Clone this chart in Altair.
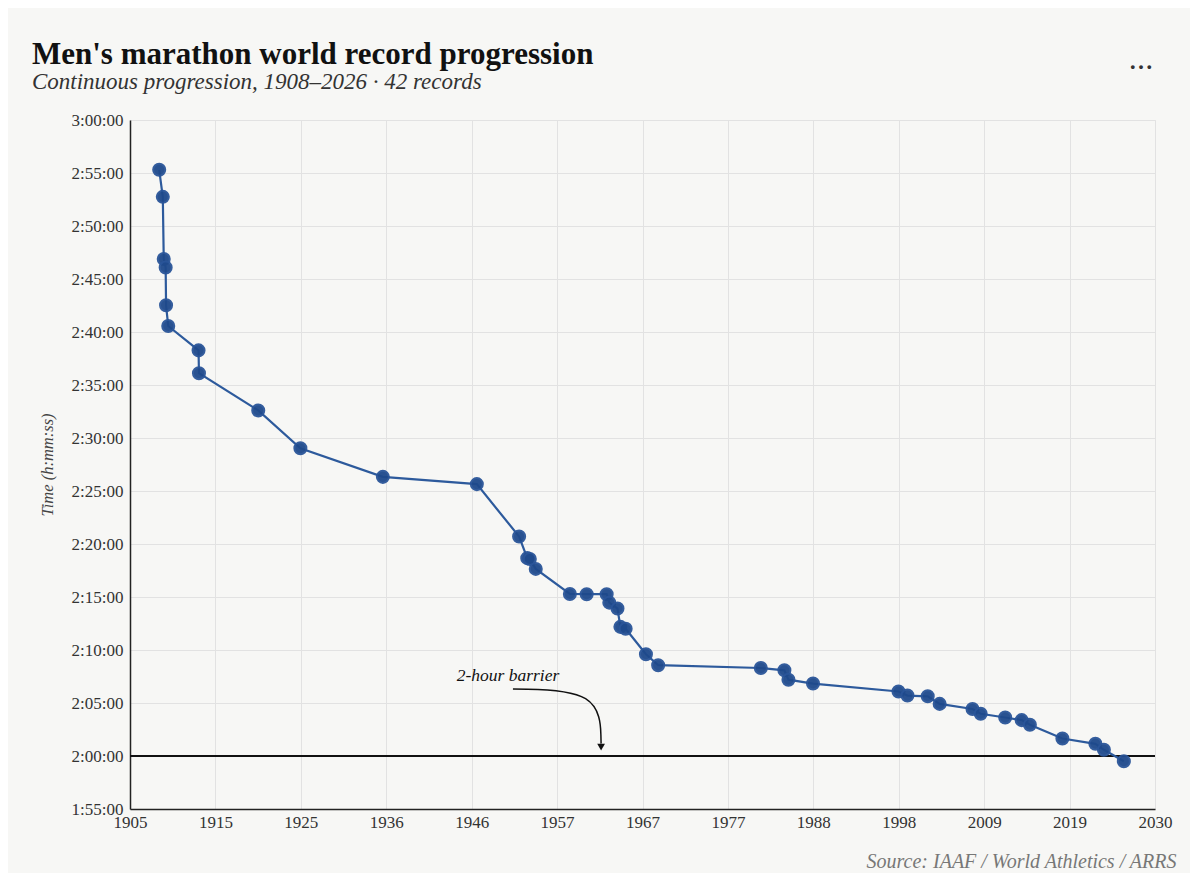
import altair as alt
import pandas as pd

# ---- data ----
dates = [
    "1908-07-24", "1909-01-01", "1909-02-12", "1909-05-08", "1909-05-26", "1909-08-31",
    "1913-05-12", "1913-05-31", "1920-08-22", "1925-10-12", "1935-11-03", "1947-04-19",
    "1952-06-14", "1953-06-13", "1953-10-04", "1954-06-26", "1958-08-24", "1960-09-10",
    "1963-02-17", "1963-06-15", "1964-06-13", "1964-10-21", "1965-06-12", "1967-12-03",
    "1969-05-30", "1981-12-06", "1984-10-21", "1985-04-20", "1988-04-17", "1998-09-20",
    "1999-10-24", "2002-04-14", "2003-09-28", "2007-09-30", "2008-09-28", "2011-09-25",
    "2013-09-29", "2014-09-28", "2018-09-16", "2022-09-25", "2023-10-08", "2026-03-15",
]
times = [
    "2:55:18", "2:52:45", "2:46:53", "2:46:05", "2:42:31", "2:40:34",
    "2:38:16", "2:36:07", "2:32:36", "2:29:02", "2:26:20", "2:25:39",
    "2:20:42", "2:18:40", "2:18:35", "2:17:39", "2:15:17", "2:15:16",
    "2:15:16", "2:14:28", "2:13:55", "2:12:11", "2:12:00", "2:09:36",
    "2:08:34", "2:08:18", "2:08:05", "2:07:12", "2:06:50", "2:06:05",
    "2:05:42", "2:05:38", "2:04:55", "2:04:26", "2:03:59", "2:03:38",
    "2:03:23", "2:02:57", "2:01:39", "2:01:09", "2:00:35", "1:59:30",
]

x_tick_values = [1905, 1915.417, 1925.833, 1936.25, 1946.667, 1957.083, 1967.5,
                 1977.917, 1988.333, 1998.75, 2009.167, 2019.583, 2030]
y_tick_values = list(range(6900, 10801, 300))  # 1:55:00 .. 3:00:00 in seconds

barrier_seconds = [7200]
arrow_years = [1951.7, 1962.3, 1962.45]
arrow_secs = [7579, 7574, 7270]
arrow_head_year = [1962.45]
arrow_head_sec = [7250]
label_year = [1951.1]
label_sec = [7653]


def to_sec(t):
    h, m, s = t.split(":")
    return int(h) * 3600 + int(m) * 60 + int(s)


def frac_year(d):
    ts = pd.Timestamp(d)
    days = 366 if ts.is_leap_year else 365
    return ts.year + (ts.dayofyear - 1) / days


df = pd.DataFrame({
    "year": [frac_year(d) for d in dates],
    "seconds": [to_sec(t) for t in times],
    "date": dates,
    "time": times,
})

SERIF = "Liberation Serif"
W, H = 1025, 689

xscale = alt.Scale(domain=[1905, 2030], nice=False, zero=False)
yscale = alt.Scale(domain=[6900, 10800], nice=False, zero=False)

x_axis = alt.Axis(
    values=x_tick_values, labelExpr="floor(datum.value)", grid=True, ticks=False,
    labelFlush=False, labelPadding=5, labelFontSize=17, labelFont=SERIF, labelColor="#333",
    domainColor="#222", domainWidth=1.5, gridColor="#e2e2e2",
    title="Source: IAAF / World Athletics / ARRS", titleFont=SERIF, titleFontSize=20,
    titleFontStyle="italic", titleFontWeight="normal", titleColor="#777",
    titleAlign="right", titleAnchor="end", titleBaseline="alphabetic",
    titleX=W + 21, titleY=58,
)
y_axis = alt.Axis(
    values=y_tick_values,
    labelExpr="utcFormat(datum.value * 1000, '%-H:%M:%S')",
    grid=True, ticks=False, labelFlush=False, labelPadding=7, labelFontSize=17, labelFont=SERIF,
    labelColor="#333", domainColor="#222", domainWidth=1.5, gridColor="#e2e2e2",
    title="Time (h:mm:ss)", titleFont=SERIF, titleFontSize=16.5, titleFontStyle="italic",
    titleFontWeight="normal", titleColor="#444", titleX=-83, titleBaseline="middle",
)

base = alt.Chart(df)

line = base.mark_line(color="#2d5a9c", strokeWidth=2.2).encode(
    x=alt.X("year:Q", scale=xscale, axis=x_axis),
    y=alt.Y("seconds:Q", scale=yscale, axis=y_axis),
)

points = base.mark_point(
    filled=True, size=145, color="#1f4a8c", opacity=0.95,
    stroke="#2a5599", strokeWidth=2,
).encode(
    x="year:Q", y="seconds:Q",
    tooltip=["date:N", "time:N"],
)

rule = alt.Chart(pd.DataFrame({"seconds": barrier_seconds})).mark_rule(
    color="#111", strokeWidth=2
).encode(y=alt.Y("seconds:Q", scale=yscale))

arrow_df = pd.DataFrame({"year": arrow_years, "seconds": arrow_secs, "o": [0, 1, 2]})
arrow = alt.Chart(arrow_df).mark_line(
    color="#111", strokeWidth=1.5, interpolate="basis"
).encode(
    x=alt.X("year:Q", scale=xscale), y=alt.Y("seconds:Q", scale=yscale), order="o:Q"
)

head = alt.Chart(pd.DataFrame({"year": arrow_head_year, "seconds": arrow_head_sec})).mark_point(
    shape="triangle-down", filled=True, color="#111", size=60, opacity=1
).encode(x=alt.X("year:Q", scale=xscale), y=alt.Y("seconds:Q", scale=yscale))

label = alt.Chart(pd.DataFrame({"year": label_year, "seconds": label_sec, "t": ["2-hour barrier"]})).mark_text(
    font=SERIF, fontSize=17.5, fontStyle="italic", color="#111", align="center", baseline="middle"
).encode(x=alt.X("year:Q", scale=xscale), y=alt.Y("seconds:Q", scale=yscale), text="t:N")

menu = alt.Chart(pd.DataFrame({"t": ["• • •"]})).mark_text(
    fontSize=13, fontWeight="bold", color="#333", align="center", baseline="middle"
).encode(x=alt.value(W - 14), y=alt.value(-53), text="t:N")

chart = alt.layer(rule, line, points, arrow, head, label, menu).properties(
    width=W, height=H,
    autosize=alt.AutoSizeParams(type="none"),
    padding={"left": 122, "top": 112, "right": 35, "bottom": 64},
    background="#f7f7f5",
    title=alt.TitleParams(
        text="Men's marathon world record progression",
        subtitle="Continuous progression, 1908–2026 · 42 records",
        anchor="start", frame="group", dx=-98, offset=-34,
        font=SERIF, fontSize=31, fontWeight="bold", color="#111",
        subtitleFont=SERIF, subtitleFontSize=23, subtitleFontStyle="italic",
        subtitleColor="#333", subtitlePadding=0,
    ),
).configure_view(stroke="#e2e2e2")

chart.save("out.html", embed_options={"renderer": "svg", "actions": False})
